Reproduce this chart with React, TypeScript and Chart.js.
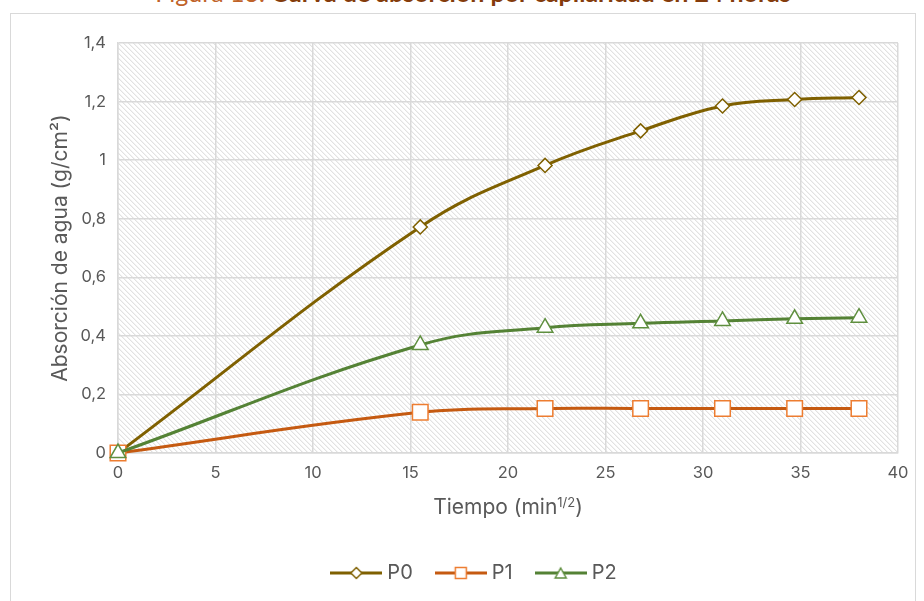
import React, { useEffect, useRef } from "react";
import { Chart, registerables } from "chart.js";
Chart.register(...registerables);

const timeSqrt = [0, 15.5, 21.9, 26.8, 31.0, 34.7, 38.0];
const p0Values = [0, 0.772, 0.982, 1.1, 1.185, 1.207, 1.214];
const p1Values = [0, 0.139, 0.152, 0.152, 0.152, 0.152, 0.152];
const p2Values = [0, 0.369, 0.428, 0.443, 0.451, 0.458, 0.462];
const seriesNames = ["P0", "P1", "P2"];
const xTickValues = [0, 5, 10, 15, 20, 25, 30, 35, 40];
const yTickValues = [0, 0.2, 0.4, 0.6, 0.8, 1, 1.2, 1.4];

const titleNormal = "Figura 13. ";
const titleBold = "Curva de absorción por capilaridad en 24 horas";
const yTitle = "Absorción de agua (g/cm²)";
const xTitleMain = "Tiempo (min";
const xTitleSup = "1/2";
const xTitleEnd = ")";

const lineColors = ["#7f6000", "#c55a11", "#548235"];
const markerColors = ["#7f6000", "#ed7d31", "#5f8f3f"];
const FONT = "Inter, 'Noto Sans', sans-serif";
const TEXT = "#595959";
const GRID = "#d9d9d9";

function makeLegendIcon(i: number): HTMLCanvasElement {
  const W = 52;
  const c = document.createElement("canvas");
  c.width = W;
  c.height = 16;
  const g = c.getContext("2d")!;
  const m = W / 2;
  g.strokeStyle = lineColors[i];
  g.lineWidth = 3;
  g.beginPath();
  g.moveTo(0, 8);
  g.lineTo(W, 8);
  g.stroke();
  g.fillStyle = "#ffffff";
  g.strokeStyle = markerColors[i];
  g.lineWidth = 1.5;
  g.beginPath();
  if (i === 0) {
    g.moveTo(m, 2.5);
    g.lineTo(m + 5.5, 8);
    g.lineTo(m, 13.5);
    g.lineTo(m - 5.5, 8);
    g.closePath();
  } else if (i === 1) {
    g.rect(m - 5.5, 2.5, 11, 11);
  } else {
    g.moveTo(m, 3);
    g.lineTo(m + 5.5, 13);
    g.lineTo(m - 5.5, 13);
    g.closePath();
  }
  g.fill();
  g.stroke();
  return c;
}

function makeHatch(): CanvasPattern | string {
  const n = 5;
  const t = document.createElement("canvas");
  t.width = n;
  t.height = n;
  const g = t.getContext("2d")!;
  const img = g.createImageData(n, n);
  for (let y = 0; y < n; y++) {
    for (let x = 0; x < n; x++) {
      const k = (y * n + x) * 4;
      const d = (x - y + 2 * n) % n;
      const v = d === 0 ? 226 : d === 1 ? 243 : 255;
      img.data[k] = v;
      img.data[k + 1] = v;
      img.data[k + 2] = v;
      img.data[k + 3] = 255;
    }
  }
  g.putImageData(img, 0, 0);
  return g.createPattern(t, "repeat") || "#f2f2f2";
}

function fmt(v: number): string {
  return String(Number(v.toFixed(1))).replace(".", ",");
}

export default function App() {
  const ref = useRef<HTMLCanvasElement>(null);

  useEffect(() => {
    document.body.style.margin = "0";
    document.body.style.overflow = "hidden";
    const canvas = ref.current!;
    const hatch = makeHatch();
    const icons = [0, 1, 2].map(makeLegendIcon);
    const allValues = [p0Values, p1Values, p2Values];
    const styles = ["rectRot", "rect", "triangle"];
    const radii = [7, 11, 9];
    const orders = [3, 2, 1];

    const bgPlugin = {
      id: "hatchBg",
      afterLayout(chart: any) {
        if (chart.legend) {
          chart.legend.left += 22;
          chart.legend.right += 22;
        }
      },
      beforeDraw(chart: any) {
        const { ctx, chartArea } = chart;
        ctx.save();
        ctx.fillStyle = hatch;
        ctx.fillRect(chartArea.left, chartArea.top, chartArea.right - chartArea.left, chartArea.bottom - chartArea.top);
        ctx.restore();
      },
    };

    const xTitlePlugin = {
      id: "xTitle",
      afterDraw(chart: any) {
        const { ctx, chartArea } = chart;
        const cx = (chartArea.left + chartArea.right) / 2;
        const baseY = 514;
        ctx.save();
        ctx.fillStyle = TEXT;
        ctx.textBaseline = "alphabetic";
        ctx.textAlign = "left";
        ctx.font = `21px ${FONT}`;
        const w1 = ctx.measureText(xTitleMain).width;
        const w3 = ctx.measureText(xTitleEnd).width;
        ctx.font = `13px ${FONT}`;
        const w2 = ctx.measureText(xTitleSup).width;
        let x = cx - (w1 + w2 + w3) / 2;
        ctx.font = `21px ${FONT}`;
        ctx.fillText(xTitleMain, x, baseY);
        x += w1;
        ctx.font = `13px ${FONT}`;
        ctx.fillText(xTitleSup, x, baseY - 7);
        x += w2;
        ctx.font = `21px ${FONT}`;
        ctx.fillText(xTitleEnd, x, baseY);
        ctx.restore();
      },
    };

    const chart = new Chart(canvas, {
      type: "line",
      data: {
        datasets: seriesNames.map((name, i) => ({
          label: name,
          data: timeSqrt.map((x, j) => ({ x, y: allValues[i][j] })),
          borderColor: lineColors[i],
          backgroundColor: lineColors[i],
          borderWidth: 3,
          tension: 0.4,
          fill: false,
          clip: false,
          pointStyle: styles[i] as any,
          pointRadius: radii[i],
          pointBorderWidth: 1.5,
          pointBackgroundColor: "#ffffff",
          pointBorderColor: markerColors[i],
          order: orders[i],
        })),
      },
      options: {
        animation: false,
        responsive: false,
        devicePixelRatio: 1,
        layout: { padding: { left: 10, top: 43, right: 26, bottom: 27 } },
        scales: {
          x: {
            type: "linear",
            min: 0,
            max: 40,
            afterBuildTicks: (s: any) => {
              s.ticks = xTickValues.map((v) => ({ value: v }));
            },
            afterFit: (s: any) => {
              s.height = 83;
            },
            ticks: {
              color: TEXT,
              font: { family: FONT, size: 16.5 },
              padding: 10,
              maxRotation: 0,
              callback: (v: any) => fmt(Number(v)),
            },
            grid: { color: GRID, lineWidth: 1.5, drawTicks: false },
            border: { color: GRID, width: 1.5 },
            title: { display: false },
          },
          y: {
            type: "linear",
            min: 0,
            max: 1.4,
            afterBuildTicks: (s: any) => {
              s.ticks = yTickValues.map((v) => ({ value: v }));
            },
            afterFit: (s: any) => {
              s.width = 108;
            },
            ticks: {
              color: TEXT,
              font: { family: FONT, size: 16.5 },
              padding: 12,
              callback: (v: any) => fmt(Number(v)),
            },
            grid: { color: GRID, lineWidth: 1.5, drawTicks: false },
            border: { color: GRID, width: 1.5 },
            title: {
              display: true,
              text: yTitle,
              color: TEXT,
              font: { family: FONT, size: 21 },
              padding: { top: 38, bottom: 0 },
            },
          },
        },
        plugins: {
          tooltip: { enabled: false },
          title: { display: false },
          legend: {
            display: true,
            position: "bottom",
            labels: {
              color: TEXT,
              font: { family: FONT, size: 20 },
              padding: 27,
              usePointStyle: true,
              pointStyleWidth: 42,
              boxHeight: 16,
              generateLabels: () =>
                seriesNames.map((name, i) => ({
                  text: name,
                  pointStyle: icons[i] as any,
                  fillStyle: "transparent",
                  strokeStyle: "transparent",
                  lineWidth: 0,
                  hidden: false,
                  datasetIndex: i,
                  fontColor: TEXT,
                })),
            },
          },
        },
      },
      plugins: [bgPlugin, xTitlePlugin],
    });
    return () => chart.destroy();
  }, []);

  return (
    <div style={{ position: "relative", width: 924, height: 601, overflow: "hidden", background: "#ffffff" }}>
      <div
        style={{
          position: "absolute",
          left: 0,
          width: 946,
          top: -18,
          textAlign: "center",
          whiteSpace: "nowrap",
          fontFamily: "Lato, 'Open Sans', sans-serif",
          fontSize: 25,
          lineHeight: "20px",
        }}
      >
        <span style={{ color: "#c0632a" }}>{titleNormal}</span>
        <span style={{ color: "#843c0c", fontWeight: 700 }}>{titleBold}</span>
      </div>
      <div
        style={{
          position: "absolute",
          left: 10,
          top: 13,
          width: 906,
          height: 700,
          border: "1px solid #d9d9d9",
          boxSizing: "border-box",
          pointerEvents: "none",
        }}
      />
      <canvas ref={ref} width={924} height={620} style={{ position: "absolute", left: 0, top: 0 }} />
    </div>
  );
}
